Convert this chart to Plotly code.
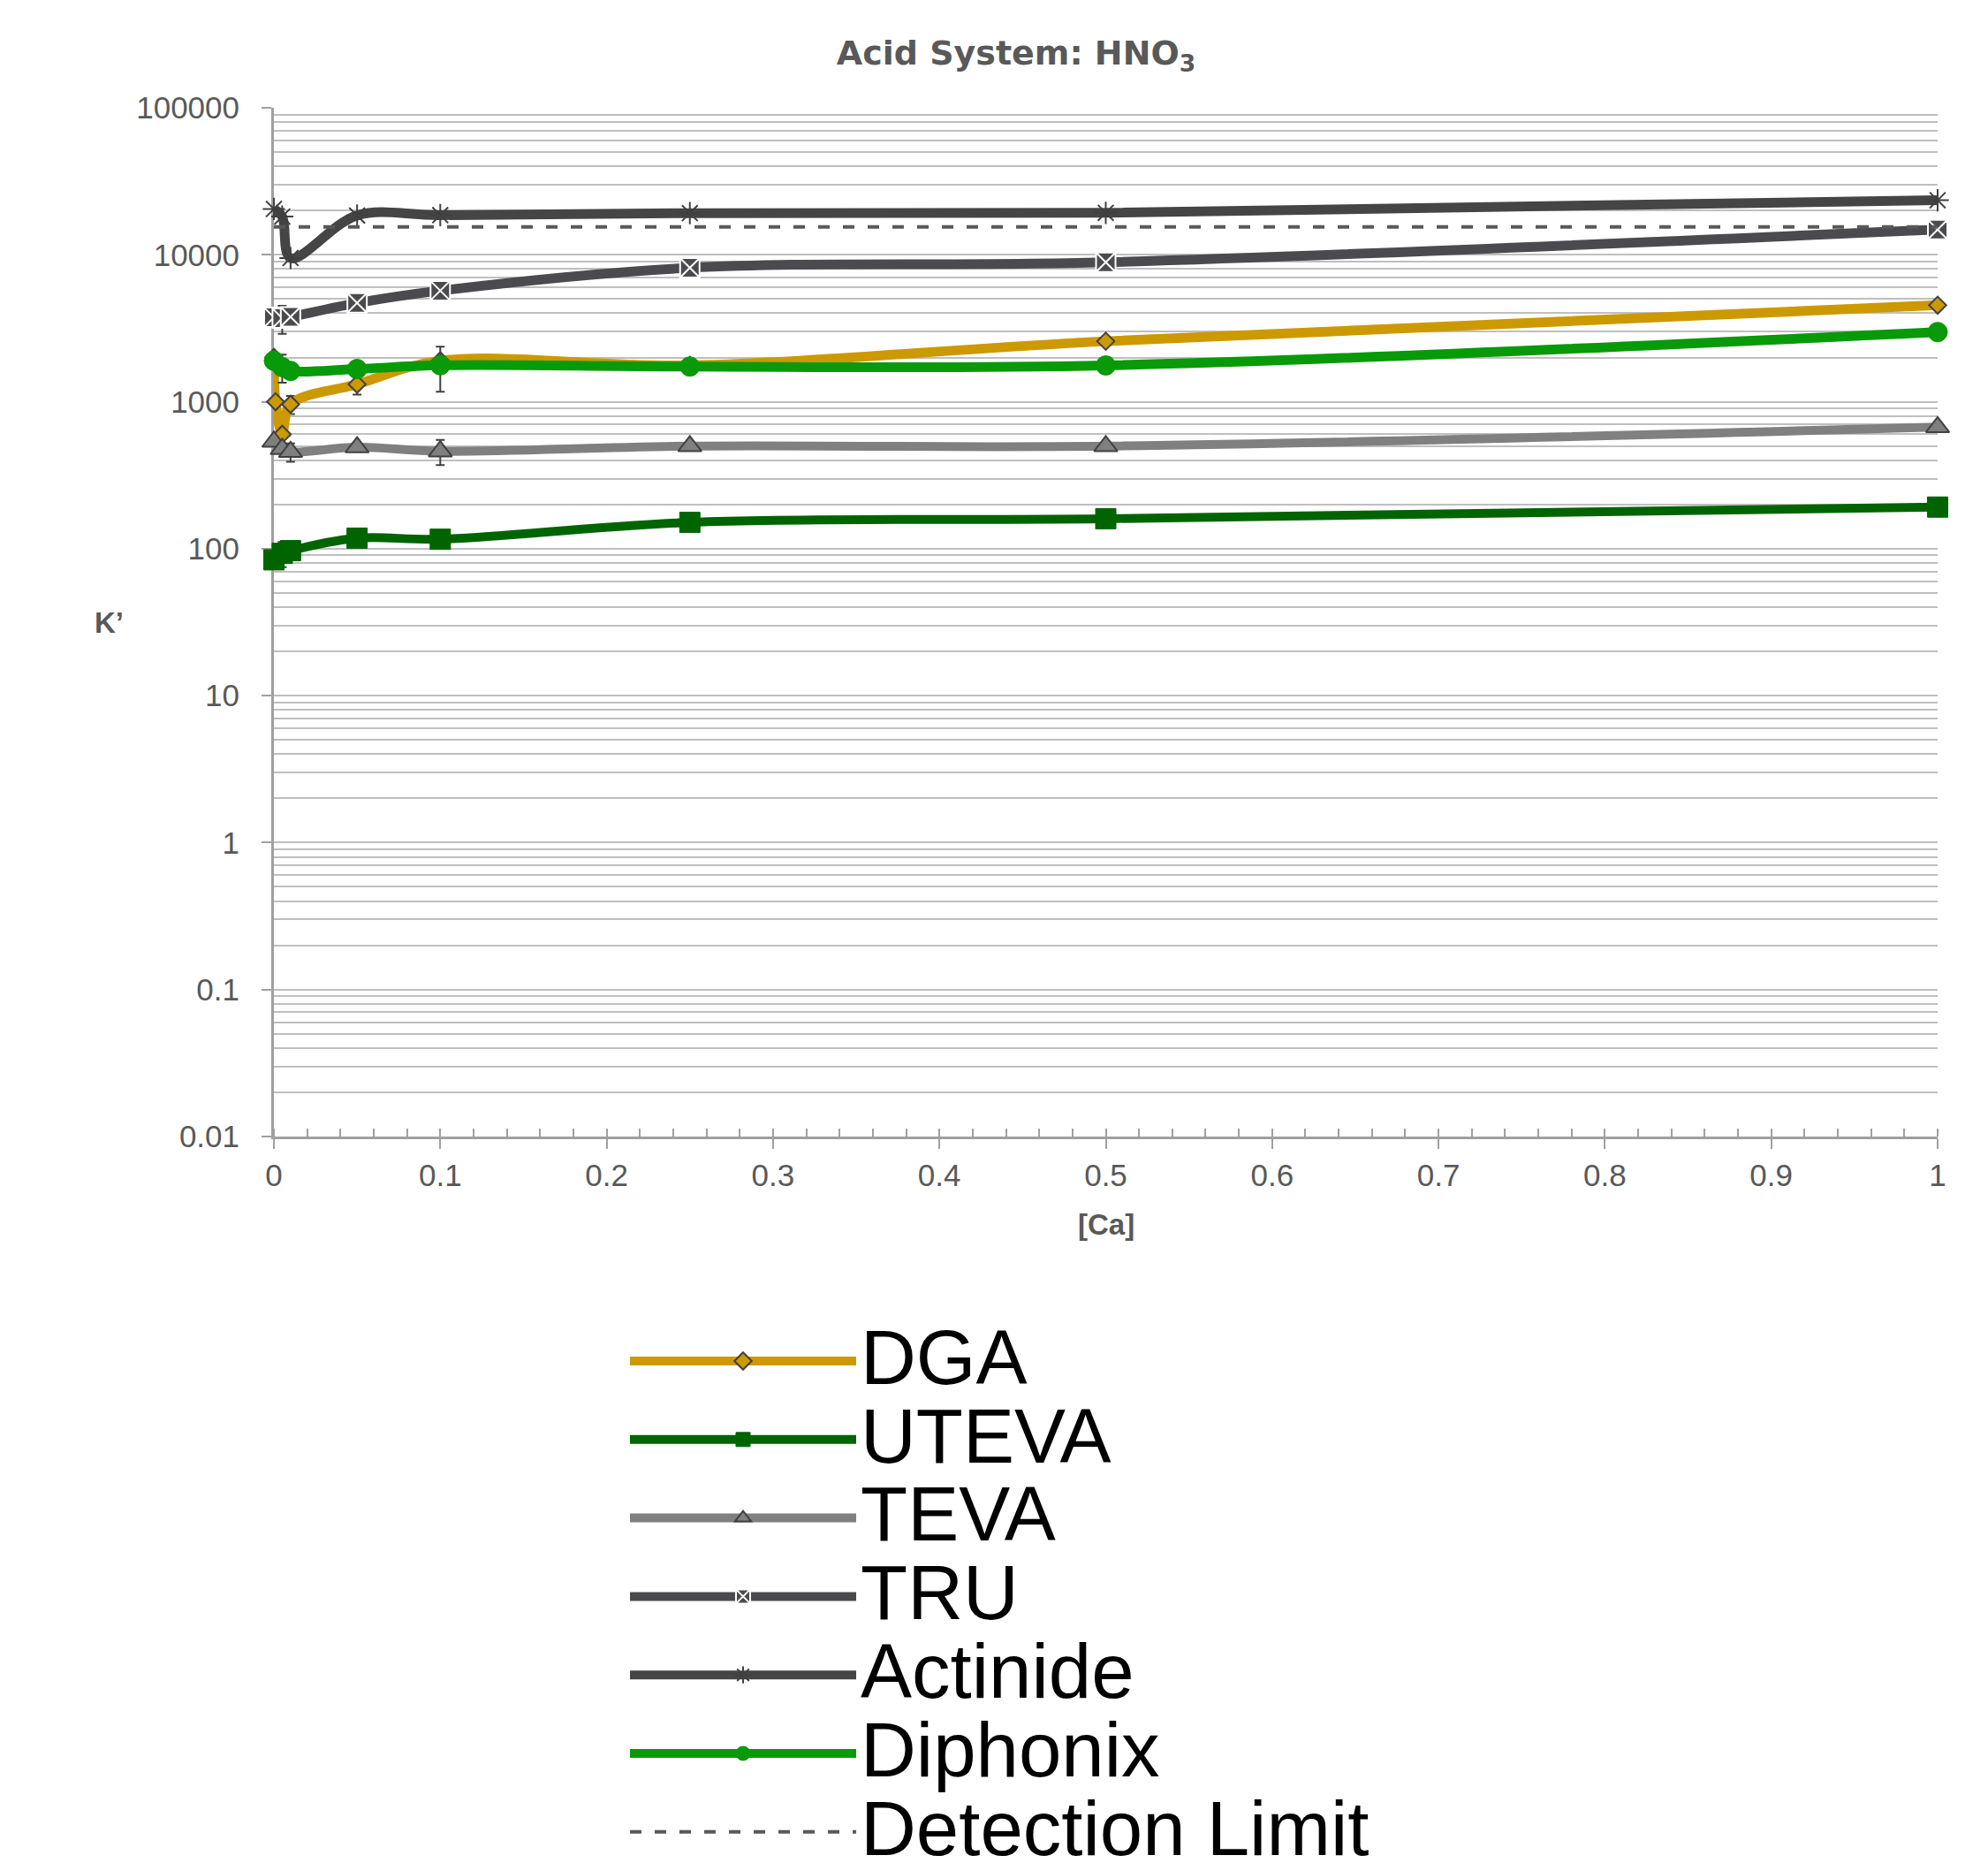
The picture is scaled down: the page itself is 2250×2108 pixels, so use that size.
import plotly.graph_objects as go

# ---------------- data ----------------
ca_main = [0, 0.005, 0.01, 0.05, 0.1, 0.25, 0.5, 1]
ca_dga = [0, 0.001, 0.005, 0.01, 0.05, 0.1, 0.25, 0.5, 1]
ca_limit = [0, 1]

dga = [2000, 1000, 600, 960, 1315, 1900, 1770, 2580, 4540]
dga_err = [0, 0, 0, 135, 195, 0, 0, 0, 0]
uteva = [84, 93, 97, 118, 116, 151, 160, 192]
uteva_err = [0, 18, 0, 0, 0, 0, 0, 0]
teva = [535, 478, 456, 490, 460, 499, 499, 672]
teva_err = [0, 0, 65, 0, 90, 0, 0, 0]
tru = [3750, 3700, 3780, 4700, 5700, 8150, 8900, 14850]
tru_err = [0, 800, 0, 0, 0, 0, 0, 0]
actinide = [20500, 18200, 9500, 18500, 18600, 19200, 19300, 23500]
diphonix = [1900, 1720, 1620, 1670, 1770, 1735, 1765, 2980]
diphonix_err = [0, 370, 0, 0, 600, 0, 0, 0]
detection_limit = [15500, 15500]

series_names = ["DGA", "UTEVA", "TEVA", "TRU", "Actinide", "Diphonix", "Detection Limit"]

y_tickvals = [0.01, 0.1, 1, 10, 100, 1000, 10000, 100000]
y_ticklabels = ["0.01", "0.1", "1", "10", "100", "1000", "10000", "100000"]

title_text = "<b>Acid System: HNO<sub>3</sub></b>"
x_title = "<b>[Ca]</b>"
y_title = "<b>K\u2019</b>"

# ---------------- figure ----------------
W, H = 2250, 2108
ML, MR, MT, MB = 310, 57, 122, 822
plot_w = W - ML - MR
plot_h = H - MT - MB

FONT = "Liberation Sans, Arial, sans-serif"
TXT = "#595959"
AX = "#A0A0A0"
GRID = "#BFBFBF"
ERR = "#404040"


def legend_name(n):
    return '<span style="font-size:87px">' + n + "</span>"


def err(arr):
    return dict(type="data", array=arr, visible=True, color=ERR, thickness=2, width=5)


fig = go.Figure()

fig.add_trace(go.Scatter(
    x=ca_dga, y=dga, name=legend_name(series_names[0]), mode="lines+markers",
    line=dict(color="#CC9900", width=11, shape="spline", smoothing=1),
    marker=dict(symbol="diamond", size=15, color="#CC9900", line=dict(color="#404040", width=2)),
    error_y=err(dga_err), cliponaxis=False))

fig.add_trace(go.Scatter(
    x=ca_main, y=uteva, name=legend_name(series_names[1]), mode="lines+markers",
    line=dict(color="#006400", width=10, shape="spline", smoothing=1),
    marker=dict(symbol="square", size=23, color="#006400", line=dict(color="#006400", width=1)),
    error_y=err(uteva_err), cliponaxis=False))

fig.add_trace(go.Scatter(
    x=ca_main, y=teva, name=legend_name(series_names[2]), mode="lines+markers",
    line=dict(color="#808080", width=10, shape="spline", smoothing=1),
    marker=dict(symbol="triangle-up", size=23, color="#7F7F7F", line=dict(color="#404040", width=2)),
    error_y=err(teva_err), cliponaxis=False))

fig.add_trace(go.Scatter(
    x=ca_main, y=tru, name=legend_name(series_names[3]), mode="lines+markers",
    line=dict(color="#4B4B4F", width=11, shape="spline", smoothing=1),
    marker=dict(symbol="square-x", size=22, color="#4B4B4F", line=dict(color="white", width=2)),
    error_y=err(tru_err), cliponaxis=False))

fig.add_trace(go.Scatter(
    x=ca_main, y=actinide, name=legend_name(series_names[4]), mode="lines+markers",
    line=dict(color="#454545", width=11, shape="spline", smoothing=1),
    marker=dict(symbol="asterisk-open", size=21, color="#404040", line=dict(color="#404040", width=2)),
    cliponaxis=False))

fig.add_trace(go.Scatter(
    x=ca_main, y=diphonix, name=legend_name(series_names[5]), mode="lines+markers",
    line=dict(color="#089A08", width=11, shape="spline", smoothing=1),
    marker=dict(symbol="circle", size=22, color="#089A08", line=dict(color="#089A08", width=1)),
    error_y=err(diphonix_err), cliponaxis=False))

fig.add_trace(go.Scatter(
    x=ca_limit, y=detection_limit, name=legend_name(series_names[6]), mode="lines",
    line=dict(color="#595959", width=4, dash="13px,15px")))

fig.update_layout(
    width=W, height=H,
    margin=dict(l=ML, r=MR, t=MT, b=MB, pad=0, autoexpand=False),
    paper_bgcolor="white", plot_bgcolor="white",
    font=dict(family=FONT, color=TXT),
    title=dict(text=title_text, x=1150 / W, xanchor="center", xref="container",
               y=1 - 60 / H, yanchor="middle", yref="container",
               font=dict(family="DejaVu Sans, Liberation Sans, sans-serif", size=38, color=TXT)),
    showlegend=True,
    legend=dict(x=(708 - ML) / plot_w, xanchor="left", y=-(1490.6 - (MT + plot_h)) / plot_h, yanchor="top",
                font=dict(family=FONT, size=66, color="black"), itemwidth=256,
                bgcolor="rgba(0,0,0,0)", tracegroupgap=0, traceorder="normal", itemsizing="trace"),
    xaxis=dict(range=[0, 1], tickmode="linear", tick0=0, dtick=0.1, showgrid=False, zeroline=False,
               showline=True, linecolor=AX, linewidth=3, ticks="outside", ticklen=11, tickwidth=2,
               tickcolor=AX, tickfont=dict(family=FONT, size=35, color=TXT), ticklabelstandoff=0,
               minor=dict(dtick=0.02, tick0=0, ticks="inside", ticklen=9, tickwidth=2, tickcolor=AX,
                          showgrid=False),
               layer="below traces"),
    yaxis=dict(type="log", range=[-2, 5], tickmode="array", tickvals=y_tickvals, ticktext=y_ticklabels,
               showgrid=True, gridcolor=GRID, gridwidth=2, zeroline=False,
               showline=True, linecolor=AX, linewidth=3, ticks="outside", ticklen=11, tickwidth=2,
               tickcolor=AX, tickfont=dict(family=FONT, size=35, color=TXT), ticklabelstandoff=18,
               minor=dict(dtick="D1", showgrid=True, gridcolor=GRID, gridwidth=2, ticks=""),
               layer="below traces"),
    annotations=[
        dict(text=x_title, xref="paper", yref="paper", x=0.5, y=-(1385 - (MT + plot_h)) / plot_h,
             xanchor="center", yanchor="middle", showarrow=False,
             font=dict(family=FONT, size=33, color=TXT)),
        dict(text=y_title, xref="paper", yref="paper", x=(123 - ML) / plot_w, y=0.5,
             xanchor="center", yanchor="middle", showarrow=False,
             font=dict(family=FONT, size=33, color=TXT)),
    ],
)

fig.write_html("out.html")
